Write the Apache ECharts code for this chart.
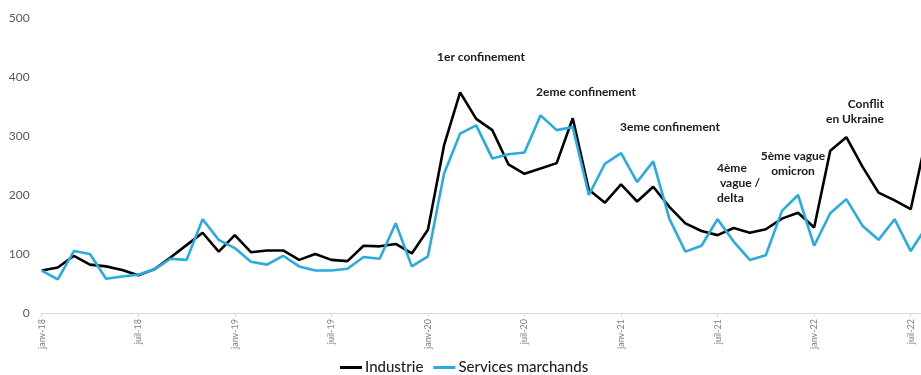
<!DOCTYPE html>
<html>
<head>
<meta charset="utf-8">
<script src="https://cdn.jsdelivr.net/npm/echarts@6/dist/echarts.min.js"></script>
<style>
  html, body { margin: 0; padding: 0; background: #fff; overflow: hidden; }
  /* the reference is cropped: the plot continues a few px past the right edge */
  #chart { width: 932px; height: 375px; }
</style>
</head>
<body>
<div id="chart"></div>
<script>
// month names as shown in the axis labels
const monthNames = ['janv', 'févr', 'mars', 'avr', 'mai', 'juin', 'juil', 'août', 'sept', 'oct', 'nov', 'déc'];
const years = ['18', '19', '20', '21', '22'];
const monthCount = 56; // janv-18 .. août-22 (the last point sits just past the right edge)

const industrie = [
  72, 77, 97, 82, 79, 73, 64, 74, 94, 115, 136, 104,
  132, 103, 106, 106, 90, 100, 90, 88, 114, 113, 117, 101,
  141, 284, 374, 329, 310, 252, 236, 245, 254, 330, 209, 187,
  218, 189, 214, 180, 152, 139, 132, 144, 136, 142, 160, 170,
  145, 275, 298, 248, 204, 191, 176, 300
];
const servicesMarchands = [
  72, 57, 105, 100, 58, 62, 65, 74, 92, 90, 159, 124,
  110, 87, 82, 97, 79, 72, 72, 75, 95, 92, 152, 79,
  96, 236, 304, 318, 262, 269, 272, 335, 310, 315, 200, 253,
  271, 222, 257, 160, 104, 114, 159, 121, 90, 98, 173, 200,
  114, 169, 193, 148, 124, 159, 105, 147
];

const yTicks = [0, 100, 200, 300, 400, 500];

const annotations = [
  { text: '1er confinement', x: 481, y: 57, align: 'center' },
  { text: '2eme confinement', x: 586, y: 92, align: 'center' },
  { text: '3eme confinement', x: 670, y: 127, align: 'center' },
  { text: '4ème\n vague /\ndelta', x: 717, y: 183, align: 'left' },
  { text: '5ème vague\nomicron', x: 793, y: 164, align: 'center' },
  { text: 'Conflit\nen Ukraine', x: 884, y: 112, align: 'right' }
];

const categories = [];
for (let i = 0; i < monthCount; i++) {
  categories.push(monthNames[i % 12] + '-' + years[Math.floor(i / 12)]);
}

const chart = echarts.init(document.getElementById('chart'));

const font = 'Lato, "Open Sans", sans-serif';

chart.setOption({
  animation: false,
  backgroundColor: '#fff',
  grid: { left: 41.7, right: 5.2, top: 18, bottom: 62, containLabel: false },
  legend: {
    top: 360,
    left: 340,
    padding: 0,
    itemWidth: 22,
    itemHeight: 3,
    itemGap: 10,
    icon: 'rect',
    textStyle: { fontFamily: font, fontSize: 15, fontWeight: 500, color: '#1f1f1f', padding: [0, 0, 0, -2] },
    data: ['Industrie', 'Services marchands']
  },
  xAxis: {
    type: 'category',
    data: categories,
    boundaryGap: false,
    axisLine: { lineStyle: { color: '#d9d9d9', width: 1 } },
    axisTick: { show: true, interval: 5, length: 4, lineStyle: { color: '#d9d9d9' } },
    axisLabel: {
      interval: 5,
      rotate: 90,
      fontFamily: font,
      fontSize: 9,
      color: '#7f7f7f',
      margin: 6
    },
    splitLine: { show: false }
  },
  yAxis: {
    type: 'value',
    min: yTicks[0],
    max: yTicks[yTicks.length - 1],
    interval: 100,
    axisLine: { show: false },
    axisTick: { show: false },
    splitLine: { show: false },
    axisLabel: { fontFamily: font, fontSize: 12, color: '#595959', margin: 12 }
  },
  graphic: annotations.map(a => ({
    type: 'text',
    x: a.x,
    y: a.y,
    silent: true,
    style: {
      text: a.text,
      fill: '#1a1a1a',
      font: 'bold 12px ' + font,
      align: a.align,
      verticalAlign: 'middle',
      lineHeight: 15
    }
  })),
  series: [
    {
      name: 'Industrie',
      type: 'line',
      data: industrie,
      symbol: 'none',
      color: '#000000',
      lineStyle: { width: 2.6, color: '#000000' }
    },
    {
      name: 'Services marchands',
      type: 'line',
      data: servicesMarchands,
      symbol: 'none',
      color: '#29abe2',
      lineStyle: { width: 2.6, color: '#29abe2' }
    }
  ]
});
</script>
</body>
</html>
